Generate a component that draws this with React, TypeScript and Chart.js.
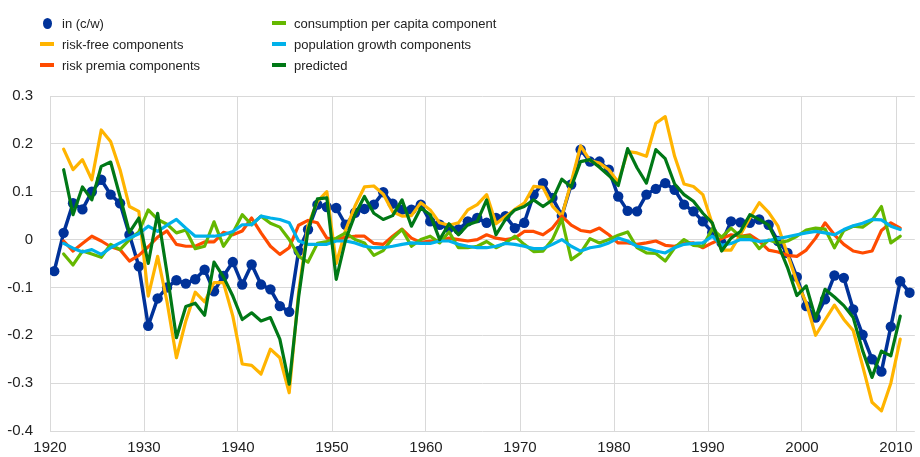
import React, { useEffect, useRef } from "react";
import { Chart, registerables } from "chart.js";

Chart.register(...registerables);

const YEARS = [
  1920, 1921, 1922, 1923, 1924, 1925, 1926, 1927, 1928, 1929,
  1930, 1931, 1932, 1933, 1934, 1935, 1936, 1937, 1938, 1939,
  1940, 1941, 1942, 1943, 1944, 1945, 1946, 1947, 1948, 1949,
  1950, 1951, 1952, 1953, 1954, 1955, 1956, 1957, 1958, 1959,
  1960, 1961, 1962, 1963, 1964, 1965, 1966, 1967, 1968, 1969,
  1970, 1971, 1972, 1973, 1974, 1975, 1976, 1977, 1978, 1979,
  1980, 1981, 1982, 1983, 1984, 1985, 1986, 1987, 1988, 1989,
  1990, 1991, 1992, 1993, 1994, 1995, 1996, 1997, 1998, 1999,
  2000, 2001, 2002, 2003, 2004, 2005, 2006, 2007, 2008, 2009,
  2010, 2011,
];

const X_TICKS = [1920, 1930, 1940, 1950, 1960, 1970, 1980, 1990, 2000, 2010];

const IN_CW = [
  -0.066, 0.014, 0.076, 0.063, 0.1, 0.125, 0.094, 0.076, 0.01, -0.056,
  -0.18, -0.123, -0.1, -0.085, -0.092, -0.083, -0.063, -0.108, -0.076, -0.047,
  -0.094, -0.052, -0.094, -0.104, -0.139, -0.151, -0.024, 0.021, 0.073, 0.068,
  0.066, 0.031, 0.056, 0.064, 0.073, 0.099, 0.075, 0.0625, 0.0625, 0.073,
  0.038, 0.031, 0.024, 0.021, 0.038, 0.045, 0.035, 0.045, 0.049, 0.024,
  0.035, 0.094, 0.118, 0.087, 0.05, 0.115, 0.188, 0.163, 0.163, 0.146,
  0.09, 0.06, 0.059, 0.094, 0.106, 0.118, 0.104, 0.073, 0.059, 0.038,
  0.015, -0.007, 0.038, 0.036, 0.035, 0.042, 0.031, -0.003, -0.028, -0.078,
  -0.139, -0.163, -0.125, -0.075, -0.08, -0.146, -0.199, -0.25, -0.276, -0.182,
  -0.087, -0.111,
];

const RISK_FREE = [
  null, 0.189, 0.146, 0.167, 0.125, 0.229, 0.205, 0.146, 0.069, 0.059,
  -0.118, -0.035, -0.13, -0.247, -0.17, -0.11, -0.13, -0.09, -0.09, -0.16,
  -0.26, -0.263, -0.281, -0.229, -0.247, -0.32, -0.11, 0.03, 0.08, 0.1,
  -0.05, 0.02, 0.07, 0.11, 0.112, 0.095, 0.058, 0.049, 0.05, 0.077,
  0.062, 0.035, 0.03, 0.035, 0.062, 0.073, 0.094, 0.033, 0.048, 0.063,
  0.076, 0.111, 0.109, 0.07, 0.049, 0.12, 0.196, 0.165, 0.16, 0.146,
  0.12, 0.184, 0.181, 0.174, 0.243, 0.257, 0.174, 0.116, 0.111, 0.094,
  0.033, -0.022, -0.022, 0.01, 0.045, 0.077, 0.057, 0.028, -0.03, -0.088,
  -0.132, -0.2, -0.168, -0.137, -0.167, -0.19, -0.264, -0.34, -0.358, -0.3,
  -0.208, null,
];

const RISK_PREMIA = [
  null, -0.003, -0.024, -0.008, 0.007, -0.003, -0.015, -0.021, -0.045, -0.033,
  -0.015, 0.005, 0.018, -0.01, -0.014, -0.014, -0.005, -0.005, 0.015, 0.01,
  0.018, 0.045, 0.014, -0.014, -0.031, -0.017, 0.03, 0.04, 0.035, 0.003,
  0.0, 0.005, 0.007, 0.007, -0.008, -0.01, 0.007, 0.022, 0.003, -0.006,
  -0.003, -0.003, 0.003, 0.0, -0.003, 0.0, 0.01, 0.003, 0.0, 0.003,
  0.017, 0.017, 0.01, 0.024, 0.049, 0.03, 0.019, 0.016, 0.024, 0.01,
  -0.007, -0.007, -0.01, -0.007, -0.003, -0.012, -0.014, -0.008, -0.007, -0.017,
  -0.007, 0.002, 0.01, 0.007, 0.01, -0.003, -0.022, -0.026, -0.033, -0.035,
  -0.022, 0.003, 0.035, 0.01, -0.01, -0.024, -0.028, -0.024, 0.019, 0.035,
  0.024, null,
];

const CONSUMPTION = [
  null, -0.03, -0.053, -0.024, -0.03, -0.037, -0.01, -0.021, 0.0, 0.016,
  0.062, 0.042, 0.032, 0.014, 0.02, -0.019, -0.014, 0.037, -0.014, 0.014,
  0.052, 0.031, 0.049, 0.034, 0.026, 0.0, -0.035, -0.047, -0.008, -0.004,
  0.003, 0.014, 0.0, -0.007, -0.033, -0.023, 0.003, 0.021, -0.014, 0.0,
  0.007, -0.007, 0.016, -0.017, -0.017, -0.014, -0.004, -0.017, -0.007, 0.007,
  -0.01, -0.025, -0.024, 0.0, 0.043, -0.042, -0.028, 0.002, -0.007, 0.0,
  0.009, 0.016, -0.017, -0.028, -0.029, -0.045, -0.017, 0.0, -0.012, -0.014,
  0.022, 0.005, 0.024, 0.006, 0.007, -0.019, -0.001, -0.007, -0.003, 0.007,
  0.02, 0.024, 0.022, -0.017, 0.019, 0.028, 0.026, 0.04, 0.069, -0.007,
  0.007, null,
];

const POPULATION = [
  null, -0.008, -0.018, -0.026, -0.021, -0.031, -0.017, -0.007, 0.003, 0.012,
  0.028, 0.017, 0.03, 0.042, 0.024, 0.007, 0.007, 0.007, 0.01, 0.017,
  0.031, 0.031, 0.049, 0.045, 0.042, 0.035, -0.003, -0.01, -0.01, -0.01,
  -0.003, -0.003, -0.007, -0.014, -0.017, -0.017, -0.014, -0.01, -0.007, -0.008,
  -0.008, -0.003, -0.003, -0.01, -0.014, -0.017, -0.017, -0.014, -0.008, -0.01,
  -0.014, -0.019, -0.019, -0.01, 0.0, -0.014, -0.024, -0.017, -0.014, -0.007,
  0.003, -0.003, -0.014, -0.019, -0.024, -0.028, -0.017, -0.01, -0.008, -0.007,
  0.007, -0.012, -0.008, 0.0, 0.0, -0.004, -0.002, 0.002, 0.006, 0.01,
  0.014, 0.017, 0.014, 0.01, 0.021, 0.029, 0.034, 0.042, 0.041, 0.028,
  0.021, null,
];

const PREDICTED = [
  null, 0.146, 0.052, 0.11, 0.083, 0.153, 0.162, 0.09, 0.015, 0.045,
  -0.05, 0.055, -0.07, -0.205, -0.14, -0.133, -0.158, -0.047, -0.078, -0.118,
  -0.167, -0.153, -0.17, -0.163, -0.208, -0.302, -0.12, 0.02, 0.085, 0.087,
  -0.083, 0.0, 0.052, 0.09, 0.055, 0.042, 0.05, 0.083, 0.028, 0.066,
  0.052, 0.0, 0.033, 0.01, 0.031, 0.038, 0.083, 0.01, 0.042, 0.062,
  0.069, 0.083, 0.069, 0.083, 0.126, 0.11, 0.163, 0.167, 0.151, 0.134,
  0.113, 0.19, 0.15, 0.118, 0.188, 0.169, 0.116, 0.094, 0.08, 0.055,
  0.035, -0.024, 0.003, 0.017, 0.052, 0.042, 0.03, -0.01, -0.058, -0.117,
  -0.097, -0.165, -0.104, -0.12, -0.138, -0.163, -0.232, -0.288, -0.233, -0.243,
  -0.16, null,
];

const SERIES_LABELS = [
  "in (c/w)",
  "risk-free components",
  "risk premia components",
  "consumption per capita component",
  "population growth components",
  "predicted",
];

const COLORS = ["#003299", "#FFB400", "#FF4B00", "#65B800", "#00B1EA", "#007816"];

const FONT = '"Liberation Sans", Arial, Helvetica, sans-serif';
const MID_YEAR = 0.45;

function toPoints(values: (number | null)[]) {
  return YEARS.map((yr, i) => ({ x: yr + MID_YEAR, y: values[i] }));
}

function LegendItem({ idx, left, top }: { idx: number; left: number; top: number }) {
  const isDot = idx === 0;
  return (
    <div style={{ position: "absolute", left, top, height: 20, display: "flex", alignItems: "center" }}>
      <div style={{ width: 22, display: "flex", justifyContent: isDot ? "center" : "flex-start", alignItems: "center" }}>
        {isDot ? (
          <div style={{ width: 9, height: 11, borderRadius: "50%", background: COLORS[idx], marginLeft: -8 }} />
        ) : (
          <div style={{ width: 14, height: 4, background: COLORS[idx] }} />
        )}
      </div>
      <span style={{ fontFamily: FONT, fontSize: 13, color: "#222", whiteSpace: "nowrap" }}>{SERIES_LABELS[idx]}</span>
    </div>
  );
}

export default function App() {
  const canvasRef = useRef<HTMLCanvasElement | null>(null);

  useEffect(() => {
    const canvas = canvasRef.current;
    if (!canvas) return;
    const seriesValues = [IN_CW, RISK_FREE, RISK_PREMIA, CONSUMPTION, POPULATION, PREDICTED];
    const datasets = seriesValues.map((vals, i) => ({
      label: SERIES_LABELS[i],
      data: toPoints(vals),
      borderColor: COLORS[i],
      backgroundColor: COLORS[i],
      borderWidth: i === 0 ? 3.5 : 3.2,
      pointRadius: i === 0 ? 5.2 : 0,
      pointBorderWidth: 0,
      pointBackgroundColor: COLORS[i],
      pointHoverRadius: 0,
      tension: 0,
      borderJoinStyle: "round" as const,
      borderCapStyle: "round" as const,
      spanGaps: false,
      order: 6 - i,
    }));

    const chart = new Chart(canvas, {
      type: "line",
      data: { datasets },
      options: {
        animation: false,
        responsive: false,
        maintainAspectRatio: false,
        events: [],
        layout: { padding: { top: 96, right: 5, left: 0, bottom: 0 } },
        plugins: {
          legend: { display: false },
          tooltip: { enabled: false },
          title: { display: false },
        },
        scales: {
          x: {
            type: "linear",
            min: 1920,
            max: 2012,
            afterBuildTicks: (scale: any) => {
              scale.ticks = X_TICKS.map((v) => ({ value: v }));
            },
            afterFit: (scale: any) => {
              scale.height = 25;
            },
            ticks: {
              includeBounds: false,
              autoSkip: false,
              maxRotation: 0,
              padding: 6,
              color: "#222",
              font: { family: FONT, size: 15, lineHeight: 1.45 },
              callback: (v: any) => String(v),
            },
            grid: { color: "#d9d9d9", lineWidth: 1, drawTicks: false },
            border: { display: false },
          },
          y: {
            type: "linear",
            min: -0.4,
            max: 0.3,
            afterFit: (scale: any) => {
              scale.width = 50;
            },
            ticks: {
              stepSize: 0.1,
              padding: 17,
              color: "#222",
              font: { family: FONT, size: 15 },
              callback: (v: any) => String(Number(Number(v).toFixed(1))),
            },
            grid: { color: "#d9d9d9", lineWidth: 1, drawTicks: false },
            border: { display: false },
          },
        },
      },
    });
    return () => chart.destroy();
  }, []);

  return (
    <div style={{ position: "absolute", left: 0, top: 0, width: 920, height: 457, background: "#fff" }}>
      <canvas ref={canvasRef} width={920} height={457} style={{ width: 920, height: 457, display: "block" }} />
      <LegendItem idx={0} left={40} top={13} />
      <LegendItem idx={1} left={40} top={34} />
      <LegendItem idx={2} left={40} top={55} />
      <LegendItem idx={3} left={272} top={13} />
      <LegendItem idx={4} left={272} top={34} />
      <LegendItem idx={5} left={272} top={55} />
    </div>
  );
}
